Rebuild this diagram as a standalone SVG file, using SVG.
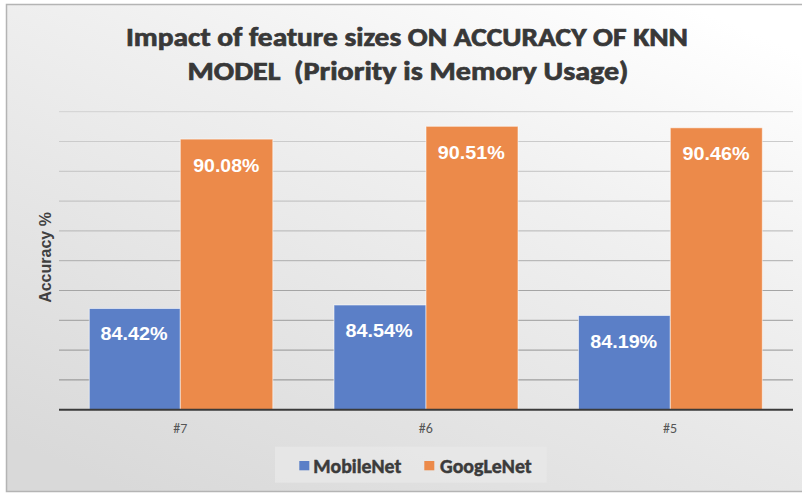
<svg xmlns="http://www.w3.org/2000/svg" width="802" height="493" viewBox="0 0 802 493">
  <defs>
    <linearGradient id="panelFill" x1="0.85" y1="0" x2="0.15" y2="1">
      <stop offset="0" stop-color="#ffffff"/>
      <stop offset="0.35" stop-color="#f0f0f0"/>
      <stop offset="1" stop-color="#d9d9d9"/>
    </linearGradient>
    <style>
      .title { font-family: Carlito, Lato, "Liberation Sans", sans-serif; font-weight: 700; font-size: 26px; fill: #383838; stroke: #383838; stroke-width: 0.7; white-space: pre; }
      .grid { stroke-width: 1; fill: none; }
      .axis { stroke: #3a3a3a; stroke-width: 2; }
      .blue { fill: #5b7fc7; stroke: #ffffff; stroke-opacity: 0.55; stroke-width: 1; }
      .orange { fill: #ec8a4a; stroke: #ffffff; stroke-opacity: 0.55; stroke-width: 1; }
      .val { font-family: "Liberation Sans", Arial, sans-serif; font-weight: 700; font-size: 17.5px; fill: #ffffff; text-anchor: middle; }
      .cat { font-family: Carlito, Lato, "Liberation Sans", sans-serif; font-size: 14px; fill: #555555; text-anchor: middle; }
      .ytitle { font-family: "Liberation Sans", Arial, sans-serif; font-weight: 700; font-size: 16px; fill: #404040; text-anchor: middle; }
      .legend { font-family: Carlito, Lato, "Liberation Sans", sans-serif; font-weight: 700; font-size: 20px; fill: #3b3b3b; stroke: #3b3b3b; stroke-width: 0.5; }
    </style>
  </defs>

  <!-- chart panel -->
  <rect x="0" y="0" width="802" height="493" fill="#ffffff"/>
  <rect id="panel" x="6.5" y="4.5" width="800" height="487" fill="url(#panelFill)" stroke="#b4b4b4" stroke-width="1.5"/>

  <!-- title -->
  <g id="title">
    <text class="title" x="407" y="46" text-anchor="middle" textLength="562" lengthAdjust="spacingAndGlyphs">Impact of feature sizes ON ACCURACY OF KNN</text>
    <text class="title" x="408" y="79.5" text-anchor="middle" textLength="441" lengthAdjust="spacingAndGlyphs">MODEL  (Priority is Memory Usage)</text>
  </g>

  <!-- horizontal gridlines, one per accuracy unit (91 at top down to 82) -->
  <g id="gridlines" class="grid">
    <line x1="59" y1="111.7" x2="793" y2="111.7" stroke="#d2d2d2"/>
    <line x1="59" y1="141.5" x2="793" y2="141.5" stroke="#cbcbcb"/>
    <line x1="59" y1="171.3" x2="793" y2="171.3" stroke="#c4c4c4"/>
    <line x1="59" y1="201.1" x2="793" y2="201.1" stroke="#bdbdbd"/>
    <line x1="59" y1="230.9" x2="793" y2="230.9" stroke="#b5b5b5"/>
    <line x1="59" y1="260.7" x2="793" y2="260.7" stroke="#adadad"/>
    <line x1="59" y1="290.5" x2="793" y2="290.5" stroke="#a5a5a5"/>
    <line x1="59" y1="320.3" x2="793" y2="320.3" stroke="#9d9d9d"/>
    <line x1="59" y1="350.1" x2="793" y2="350.1" stroke="#949494"/>
    <line x1="59" y1="379.9" x2="793" y2="379.9" stroke="#8c8c8c"/>
  </g>

  <!-- y axis title -->
  <text class="ytitle" transform="translate(51 257.5) rotate(-90)">Accuracy %</text>

  <!-- feature size #7 -->
  <g id="group-7">
    <rect class="blue" x="89.3" y="308.5" width="91" height="101"/>
    <rect class="orange" x="180.3" y="139.1" width="92.5" height="270.4"/>
    <text class="val" x="134" y="340" textLength="67" lengthAdjust="spacingAndGlyphs">84.42%</text>
    <text class="val" x="226.3" y="171.5" textLength="66" lengthAdjust="spacingAndGlyphs">90.08%</text>
  </g>

  <!-- feature size #6 -->
  <g id="group-6">
    <rect class="blue" x="334" y="305" width="92" height="104.5"/>
    <rect class="orange" x="426" y="126.3" width="92" height="283.2"/>
    <text class="val" x="379" y="337" textLength="67" lengthAdjust="spacingAndGlyphs">84.54%</text>
    <text class="val" x="471.3" y="159" textLength="67" lengthAdjust="spacingAndGlyphs">90.51%</text>
  </g>

  <!-- feature size #5 -->
  <g id="group-5">
    <rect class="blue" x="578.5" y="315.5" width="91.8" height="94"/>
    <rect class="orange" x="670.3" y="127.8" width="92" height="281.7"/>
    <text class="val" x="623.7" y="348" textLength="67" lengthAdjust="spacingAndGlyphs">84.19%</text>
    <text class="val" x="716" y="160" textLength="67" lengthAdjust="spacingAndGlyphs">90.46%</text>
  </g>

  <!-- category axis -->
  <g id="axis">
    <line class="axis" x1="59" y1="409.7" x2="793" y2="409.7"/>
    <text class="cat" x="180.3" y="433">#7</text>
    <text class="cat" x="425.7" y="433">#6</text>
    <text class="cat" x="670" y="433">#5</text>
  </g>

  <!-- legend -->
  <g id="legend">
    <rect x="275" y="446.7" width="271.7" height="36" fill="#e8e8e8" opacity="0.75"/>
    <rect x="299.3" y="461" width="10" height="9.3" fill="#5b7fc7"/>
    <text class="legend" x="313.3" y="473.3" textLength="88" lengthAdjust="spacingAndGlyphs">MobileNet</text>
    <rect x="424.3" y="461" width="10" height="9.3" fill="#ec8a4a"/>
    <text class="legend" x="440" y="473.3" textLength="91.7" lengthAdjust="spacingAndGlyphs">GoogLeNet</text>
  </g>
</svg>
